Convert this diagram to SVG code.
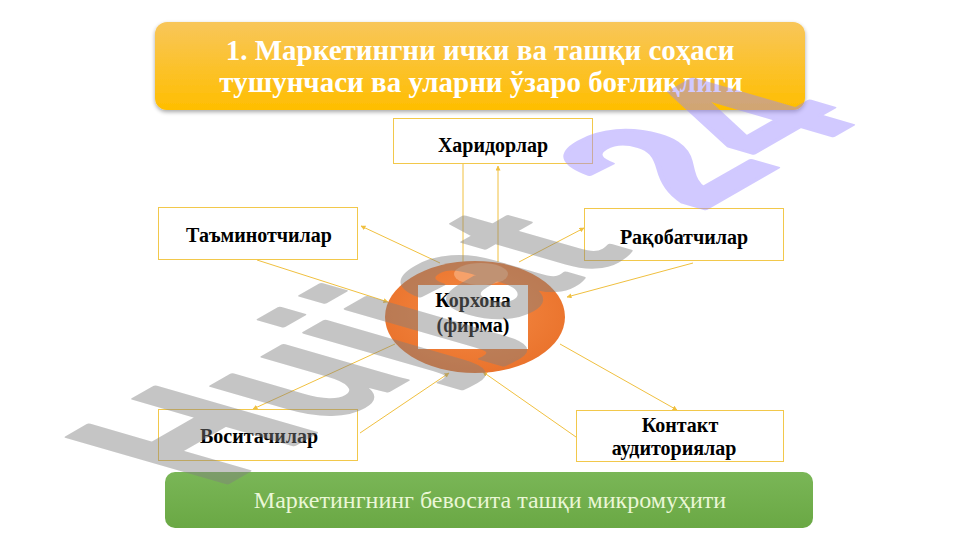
<svg xmlns="http://www.w3.org/2000/svg" width="961" height="540" viewBox="0 0 961 540">
<defs>
<style>
.box{fill:#ffffff;stroke:#f2c84b;stroke-width:1}
.lbl{font-family:"Liberation Serif","Times New Roman",serif;font-weight:bold;font-size:20px;fill:#000;text-anchor:middle}
.ttl{font-family:"Liberation Serif","Times New Roman",serif;font-weight:bold;font-size:29px;fill:#ffffff;text-anchor:middle}
.con{stroke:#f0c040;stroke-width:1;fill:none}
.arr{marker-end:url(#ah)}
.wm{font-family:"Liberation Sans",Arial,sans-serif;font-weight:bold;font-size:100px;stroke-width:2;stroke-linejoin:round}
</style>
<linearGradient id="gT" x1="0" y1="0" x2="0" y2="1">
<stop offset="0" stop-color="#f8c65a"/>
<stop offset="1" stop-color="#ffbe00"/>
</linearGradient>
<linearGradient id="gG" x1="0" y1="0" x2="0" y2="1">
<stop offset="0" stop-color="#7ab657"/>
<stop offset="1" stop-color="#6aa844"/>
</linearGradient>
<radialGradient id="gO" cx="0.5" cy="0.45" r="0.6">
<stop offset="0" stop-color="#f58a45"/>
<stop offset="1" stop-color="#e9712a"/>
</radialGradient>
<filter id="sh" x="-5%" y="-10%" width="110%" height="130%">
<feGaussianBlur in="SourceAlpha" stdDeviation="2"/>
<feOffset dx="0" dy="2"/>
<feComponentTransfer><feFuncA type="linear" slope="0.35"/></feComponentTransfer>
<feMerge><feMergeNode/><feMergeNode in="SourceGraphic"/></feMerge>
</filter>
<marker id="ah" viewBox="0 0 10 10" refX="9" refY="5" markerWidth="5" markerHeight="5" orient="auto" markerUnits="userSpaceOnUse">
<path d="M0,0 L10,5 L0,10 z" fill="#f0c040"/>
</marker>
</defs>
<rect width="961" height="540" fill="#ffffff"/>

<g id="title">
<rect x="155" y="22" width="650" height="88" rx="12" fill="url(#gT)" filter="url(#sh)"/>
<text class="ttl" x="480" y="60">1. Маркетингни ички ва ташқи соҳаси</text>
<text class="ttl" x="481" y="92">тушунчаси ва уларни ўзаро боғлиқлиги</text>
</g>

<g id="connectors">
<line class="con" x1="463" y1="163" x2="463" y2="262"/>
<line class="con arr" x1="498" y1="262" x2="498" y2="166"/>
<line class="con arr" x1="440" y1="263" x2="361" y2="226"/>
<line class="con arr" x1="257" y1="260" x2="388" y2="302"/>
<line class="con arr" x1="519" y1="262" x2="584" y2="228"/>
<line class="con arr" x1="693" y1="263" x2="567" y2="297"/>
<line class="con arr" x1="395" y1="344" x2="253" y2="409"/>
<line class="con arr" x1="360" y1="433" x2="449" y2="373"/>
<line class="con arr" x1="560" y1="344" x2="677" y2="410"/>
<line class="con arr" x1="576" y1="437" x2="483" y2="372"/>
</g>

<g id="n-haridorlar">
<rect class="box" x="393.5" y="118.5" width="199" height="45"/>
<text class="lbl" x="493" y="152">Харидорлар</text>
</g>
<g id="n-taminotchilar">
<rect class="box" x="158.5" y="207.5" width="199" height="52"/>
<text class="lbl" x="259" y="242">Таъминотчилар</text>
</g>
<g id="n-raqobatchilar">
<rect class="box" x="584.5" y="208.5" width="199" height="52"/>
<text class="lbl" x="684" y="244">Рақобатчилар</text>
</g>
<g id="n-vositachilar">
<rect class="box" x="158.5" y="409.5" width="199" height="51"/>
<text class="lbl" x="259" y="443">Воситачилар</text>
</g>
<g id="n-kontakt">
<rect class="box" x="576.5" y="410.5" width="207" height="51"/>
<text class="lbl" x="680" y="432">Контакт</text>
<text class="lbl" x="674" y="455">аудиториялар</text>
</g>

<g id="n-korxona">
<ellipse cx="475" cy="317" rx="90" ry="56" fill="url(#gO)"/>
<ellipse cx="481" cy="274" rx="27" ry="11" fill="#f6a16a"/>
<rect x="418" y="285" width="110" height="64" fill="#ffffff"/>
<text class="lbl" x="473" y="307">Корхона</text>
<text class="lbl" x="473" y="332">(фирма)</text>
</g>

<g id="footer">
<rect x="165" y="472" width="648" height="56" rx="10" fill="url(#gG)"/>
<text x="490" y="508" font-family="'Liberation Serif','Times New Roman',serif" font-size="24" fill="#eaf7d6" text-anchor="middle">Маркетингнинг бевосита ташқи микромуҳити</text>
</g>

<g id="watermark">
<g opacity="0.45"><text class="wm" transform="matrix(1.5,-0.86,2.32,0.67,217,489)" fill="#808080" stroke="#808080">Hujjat</text></g>
<g opacity="0.45"><text class="wm" transform="matrix(1.5,-0.86,2.32,0.67,700,212)" fill="#9a88ff" stroke="#9a88ff">24</text></g>
</g>
</svg>
